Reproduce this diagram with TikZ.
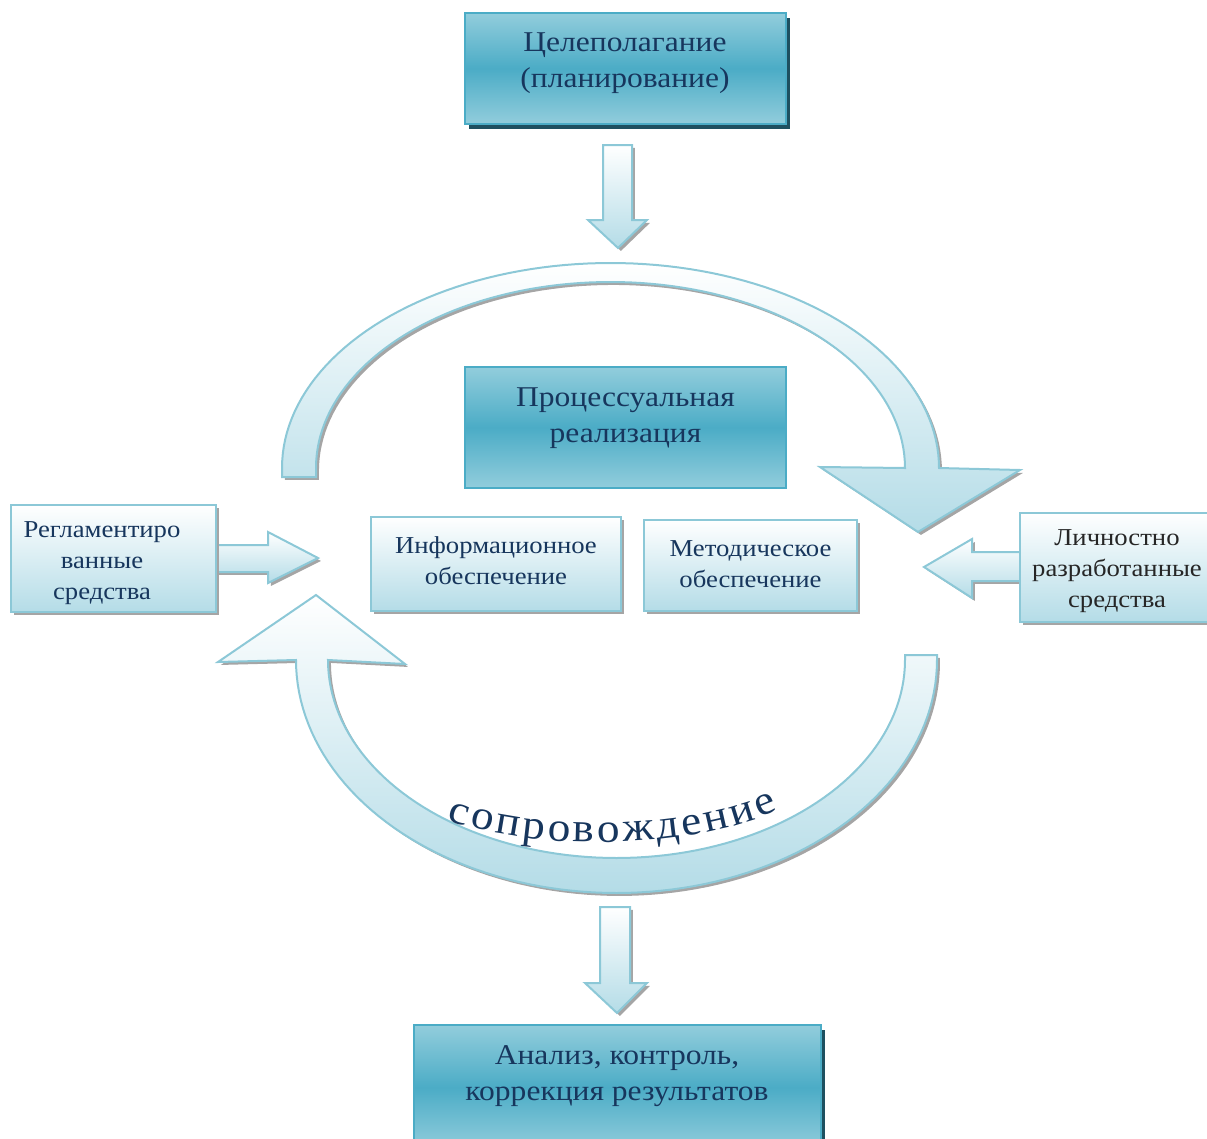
\documentclass[tikz,border=0pt]{standalone}
\usepackage{fontspec}
\setmainfont[FakeStretch=1.1]{Liberation Serif}
\usetikzlibrary{shadows,decorations.text,fit}
\definecolor{txt}{RGB}{23,54,93}
\definecolor{tealdk}{RGB}{75,172,198}
\definecolor{teallt}{RGB}{146,205,220}
\definecolor{pale}{RGB}{180,220,231}
\definecolor{edgec}{RGB}{140,200,215}
\definecolor{shdark}{RGB}{30,80,96}
\definecolor{shgray}{RGB}{165,165,165}
\begin{document}
\begin{tikzpicture}[x=0.75pt,y=-0.75pt,
  darkbox/.style={draw=tealdk, line width=1.5pt, top color=teallt, bottom color=teallt, middle color=tealdk, inner sep=0pt},
  darkshadow/.style={drop shadow={shadow xshift=3pt, shadow yshift=-3.5pt, fill=shdark, opacity=1}},
  lightbox/.style={draw=edgec, line width=1.8pt, top color=white, bottom color=pale, inner sep=0pt,
     drop shadow={shadow xshift=2.2pt, shadow yshift=-2.2pt, fill=shgray, opacity=1}},
  blockarrow/.style={draw=edgec, line width=1.5pt, top color=white, bottom color=pale, line join=miter,
     drop shadow={shadow xshift=2.2pt, shadow yshift=-2.2pt, fill=shgray, opacity=1}},
  bigtext/.style={text=txt, align=center, font=\fontsize{21.5}{27}\selectfont, inner sep=0pt},
  smalltext/.style={text=txt, align=center, font=\fontsize{18.2}{23.25}\selectfont, inner sep=0pt},
]
\useasboundingbox (0,0) rectangle (1207,1139);

% down arrow 1
\path[blockarrow] (603,145) -- (632,145) -- (632,220) -- (647,220) -- (618,248) -- (588,220) -- (603,220) -- cycle;
% down arrow 2
\path[blockarrow] (600,907) -- (630,907) -- (630,983) -- (647,983) -- (617,1013) -- (585,983) -- (600,983) -- cycle;

% upper arc arrow
\path[blockarrow] (282,477) -- plot[domain=180:360,samples=91] ({610.5+328.5*cos(\x)},{468+205*sin(\x)})
  -- (1020,470) -- (918,532) -- (820,467)
  -- plot[domain=360:180,samples=91] ({610.5+294.5*cos(\x)},{468+186*sin(\x)}) -- (316,477) -- cycle;

% lower arc arrow
\path[blockarrow] (937,655) -- plot[domain=0:180,samples=91] ({616.5+320.5*cos(\x)},{660+233*sin(\x)})
  -- (218,662) -- (316,595) -- (405,664)
  -- plot[domain=180:0,samples=91] ({616.5+288.5*cos(\x)},{660+198*sin(\x)}) -- (905,655) -- cycle;

% side arrows
\path[blockarrow] (200,545) -- (268,545) -- (268,532) -- (318,558) -- (268,583) -- (268,572) -- (200,572) -- cycle;
\path[blockarrow] (1030,552) -- (972,552) -- (972,539) -- (924,567) -- (972,598) -- (972,581) -- (1030,581) -- cycle;

% boxes
\node[darkbox, darkshadow, fit={(465,13) (786,124)}] (goal) {};
\node[bigtext] (goal-t) at (625,63) {Целеполагание\\(планирование)};

\node[darkbox, fit={(465,367) (786,488)}] (proc) {};
\node[bigtext] (proc-t) at (625.5,418) {Процессуальная\\реализация};

\node[darkbox, darkshadow, fit={(414,1025) (821,1150)}] (anal) {};
\node[bigtext] (anal-t) at (617,1076) {Анализ, контроль,\\коррекция результатов};

\node[lightbox, fit={(11,505) (216,612)}] (reg) {};
\node[smalltext] (reg-t) at (102,563) {Регламентиро\\ванные\\средства};

\node[lightbox, fit={(1020,513) (1215,622)}] (lich) {};
\node[smalltext, text=black!85] (lich-t) at (1117,571) {Личностно\\разработанные\\средства};

\node[lightbox, fit={(371,517) (621,611)}] (info) {};
\node[smalltext] (info-t) at (496,561) {Информационное\\обеспечение};

\node[lightbox, fit={(644,520) (857,611)}] (met) {};
\node[smalltext] (met-t) at (750.5,564) {Методическое\\обеспечение};

% curved text
\path[decorate, decoration={text along path, text={|\fontsize{31}{33}\selectfont\color{txt}|сопровождение}, text align={fit to path}}]
  (447,820) .. controls (540,852) and (690,850) .. (778,810);
\end{tikzpicture}
\end{document}
